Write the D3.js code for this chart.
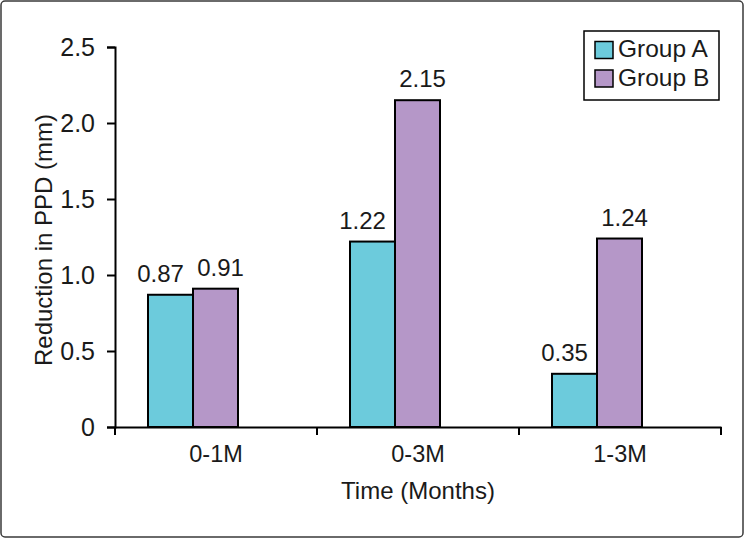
<!DOCTYPE html>
<html>
<head>
<meta charset="utf-8">
<script src="https://cdn.jsdelivr.net/npm/d3@7"></script>
<style>
  html, body { margin: 0; padding: 0; background: #fff; }
  svg { display: block; }
  text { font-family: "Liberation Sans", Arial, sans-serif; fill: #1a1a1a; }
</style>
</head>
<body>
<svg id="chart" width="744" height="538"></svg>
<script>
const categories = ["0-1M", "0-3M", "1-3M"];
const seriesNames = ["Group A", "Group B"];
const groupA = [0.87, 1.22, 0.35];
const groupB = [0.91, 2.15, 1.24];
const yTicks = [0, 0.5, 1.0, 1.5, 2.0, 2.5];
const colors = ["#6ccbdc", "#b597c8"];

const svg = d3.select("#chart");
const W = 744, H = 538;

// outer rounded frame
svg.append("rect")
  .attr("x", 1).attr("y", 1).attr("width", W - 2).attr("height", H - 2)
  .attr("rx", 4).attr("fill", "#fff").attr("stroke", "#3a3a3a").attr("stroke-width", 1.5);

const plotL = 115, plotR = 721, plotT = 47, plotB = 427;

const x = d3.scaleBand().domain(categories).range([plotL, plotR]).padding(0);
const xs = d3.scaleBand().domain(seriesNames).range([33, 123]).padding(0);
const y = d3.scaleLinear().domain([0, 2.5]).range([plotB, plotT]);

const values = [groupA, groupB];
const rows = [];
seriesNames.forEach((s, si) => {
  categories.forEach((c, ci) => rows.push({ s, si, c, v: values[si][ci] }));
});

// bars
svg.append("g").selectAll("rect").data(rows).join("rect")
  .attr("x", d => x(d.c) + xs(d.s))
  .attr("y", d => y(d.v))
  .attr("width", xs.bandwidth())
  .attr("height", d => y(0) - y(d.v))
  .attr("fill", d => colors[d.si])
  .attr("stroke", "#000").attr("stroke-width", 2);

// value labels
const labelDx = [-10, 5];
svg.append("g").selectAll("text").data(rows).join("text")
  .attr("x", d => x(d.c) + xs(d.s) + xs.bandwidth() / 2 + labelDx[d.si])
  .attr("y", d => y(d.v) - 13)
  .attr("text-anchor", "middle")
  .attr("font-size", 24)
  .text(d => d.v.toFixed(2));

// y axis
const yAxis = d3.axisLeft(y).tickValues(yTicks)
  .tickFormat(d => d === 0 ? "0" : d.toFixed(1))
  .tickSize(8).tickPadding(12);
const gy = svg.append("g").attr("transform", `translate(${plotL},0)`).call(yAxis);
gy.select(".domain").attr("stroke", "#000").attr("stroke-width", 2);
gy.selectAll(".tick line").attr("stroke", "#000").attr("stroke-width", 2);
gy.selectAll(".tick text").attr("font-size", 25).attr("font-family", "Liberation Sans, Arial, sans-serif").attr("fill", "#1a1a1a");

// x axis (labels centered, boundary ticks)
const xAxis = d3.axisBottom(x).tickSize(0).tickPadding(18);
const gx = svg.append("g").attr("transform", `translate(0,${plotB})`).call(xAxis);
gx.select(".domain").attr("stroke", "#000").attr("stroke-width", 2);
gx.selectAll(".tick text").attr("font-size", 23.5).attr("font-family", "Liberation Sans, Arial, sans-serif").attr("fill", "#1a1a1a");
const bounds = d3.range(categories.length + 1).map(i => plotL + i * x.step());
gx.selectAll(".bound").data(bounds).join("line")
  .attr("class", "bound")
  .attr("x1", d => d).attr("x2", d => d)
  .attr("y1", 0).attr("y2", 8)
  .attr("stroke", "#000").attr("stroke-width", 2);

// axis titles
svg.append("text")
  .attr("x", (plotL + plotR) / 2).attr("y", 499)
  .attr("text-anchor", "middle").attr("font-size", 24)
  .text("Time (Months)");
svg.append("text")
  .attr("transform", `translate(52,240) rotate(-90)`)
  .attr("text-anchor", "middle").attr("font-size", 24)
  .text("Reduction in PPD (mm)");

// legend
const lg = svg.append("g");
lg.append("rect").attr("x", 584).attr("y", 31).attr("width", 135).attr("height", 69)
  .attr("fill", "#fff").attr("stroke", "#000").attr("stroke-width", 1.5);
seriesNames.forEach((s, i) => {
  lg.append("rect").attr("x", 595).attr("y", 41.5 + i * 28.5).attr("width", 18).attr("height", 17)
    .attr("fill", colors[i]).attr("stroke", "#000").attr("stroke-width", 1.5);
  lg.append("text").attr("x", 618).attr("y", 57 + i * 28.5).attr("font-size", 24.5).text(s);
});
</script>
</body>
</html>
